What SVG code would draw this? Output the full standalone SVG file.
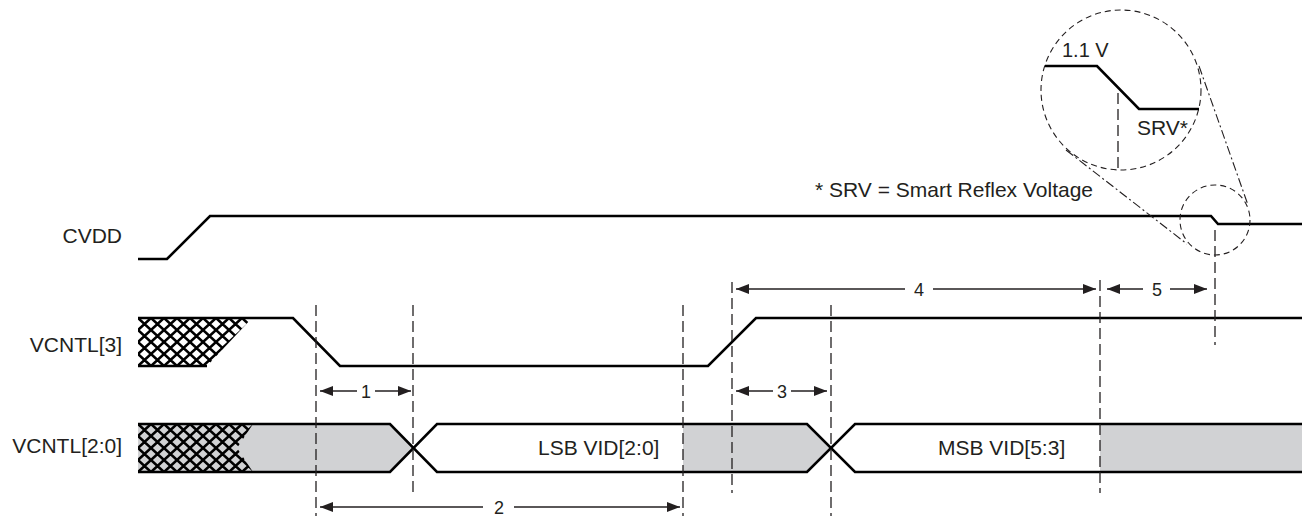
<svg xmlns="http://www.w3.org/2000/svg" width="1302" height="516" viewBox="0 0 1302 516">
<style>
.sig{fill:none;stroke:#000;stroke-width:2.6;stroke-linejoin:miter}
.lbl{font-family:"Liberation Sans",Arial,sans-serif;font-size:21px;fill:#231f20}
.num{font-family:"Liberation Sans Narrow","Liberation Sans",Arial,sans-serif;font-size:18px;fill:#231f20;text-anchor:middle}
.dash{fill:none;stroke:#231f20;stroke-width:1.3;stroke-dasharray:11 5}
.dim{fill:none;stroke:#231f20;stroke-width:1.3}
.gray{fill:#d1d2d4;stroke:none}
.circ{fill:none;stroke:#231f20;stroke-width:1.1;stroke-dasharray:6 4}
.tan{fill:none;stroke:#231f20;stroke-width:1.1;stroke-dasharray:9 3 2 3}
</style>
<defs>
<pattern id="hatch" patternUnits="userSpaceOnUse" width="13" height="12" x="138" y="318">
<path d="M0,0 L13,12 M13,0 L0,12" stroke="#000" stroke-width="2.6" fill="none"/>
</pattern>
<pattern id="hatch2" patternUnits="userSpaceOnUse" width="13" height="12" x="138" y="424">
<path d="M0,0 L13,12 M13,0 L0,12" stroke="#000" stroke-width="2.6" fill="none"/>
</pattern>
<marker id="ah" markerUnits="userSpaceOnUse" markerWidth="14" markerHeight="11" refX="13" refY="5" orient="auto-start-reverse">
<path d="M0,0 L13,5 L0,10 z" fill="#231f20"/>
</marker>
</defs>

<g id="cvdd">
<text class="lbl" x="122" y="243" text-anchor="end">CVDD</text>
<polyline class="sig" points="138,259 167,259 210,216 1211,216 1218,224 1302,224"/>
</g>

<g id="vcntl3">
<text class="lbl" x="122" y="352" text-anchor="end">VCNTL[3]</text>
<polygon points="138,318 252,318 207,366 138,366" fill="url(#hatch)"/>
<polyline class="sig" points="138,318 293,318 340,366 708,366 756,318 1302,318"/>
<line class="sig" x1="138" y1="366" x2="207" y2="366"/>
</g>

<g id="vcntl20">
<text class="lbl" x="122" y="453" text-anchor="end">VCNTL[2:0]</text>
<polygon class="gray" points="138,424 390,424 413,448 390,472 138,472"/>
<polygon points="138,424 253,424 237,448 253,472 138,472" fill="url(#hatch2)"/>
<polygon class="gray" points="683,424 807,424 831,448 807,472 683,472"/>
<rect class="gray" x="1100" y="424" width="202" height="48"/>
<polyline class="sig" points="138,424 390,424 437,472 807,472 855,424 1302,424"/>
<polyline class="sig" points="138,472 390,472 437,424 807,424 855,472 1302,472"/>
<text class="lbl" x="538" y="455">LSB VID[2:0]</text>
<text class="lbl" x="938" y="455">MSB VID[5:3]</text>
</g>

<g id="guides">
<line class="dash" x1="316" y1="305" x2="316" y2="516"/>
<line class="dash" x1="413" y1="305" x2="413" y2="493"/>
<line class="dash" x1="683" y1="305" x2="683" y2="516"/>
<line class="dash" x1="732" y1="282" x2="732" y2="493"/>
<line class="dash" x1="831" y1="305" x2="831" y2="516"/>
<line class="dash" x1="1100" y1="280" x2="1100" y2="493"/>
<line class="dash" x1="1215" y1="230" x2="1215" y2="345"/>
</g>

<g id="magnifier">
<circle class="circ" cx="1215" cy="220" r="35"/>
<circle class="circ" cx="1121" cy="90" r="80"/>
<line class="tan" x1="1066" y1="150" x2="1187" y2="244"/>
<line class="tan" x1="1199" y1="66" x2="1248" y2="205"/>
<polyline class="sig" points="1045,66 1097,66 1139,109 1199,109"/>
<line class="dash" x1="1118" y1="93" x2="1118" y2="170"/>
<text class="lbl" x="1062" y="57" style="font-size:20px">1.1 V</text>
<text class="lbl" x="1137" y="135">SRV*</text>
<text class="lbl" x="815" y="197">* SRV = Smart Reflex Voltage</text>
</g>

<g id="connectors">
<line class="dim" x1="357" y1="391" x2="320" y2="391" marker-end="url(#ah)"/>
<line class="dim" x1="375" y1="391" x2="411" y2="391" marker-end="url(#ah)"/>
<text class="num" x="366" y="398">1</text>
<line class="dim" x1="483" y1="507" x2="320" y2="507" marker-end="url(#ah)"/>
<line class="dim" x1="514" y1="507" x2="680" y2="507" marker-end="url(#ah)"/>
<text class="num" x="499" y="514">2</text>
<line class="dim" x1="773" y1="391" x2="736" y2="391" marker-end="url(#ah)"/>
<line class="dim" x1="791" y1="391" x2="827" y2="391" marker-end="url(#ah)"/>
<text class="num" x="782" y="398">3</text>
<line class="dim" x1="905" y1="289" x2="736" y2="289" marker-end="url(#ah)"/>
<line class="dim" x1="933" y1="289" x2="1096" y2="289" marker-end="url(#ah)"/>
<text class="num" x="919" y="296">4</text>
<line class="dim" x1="1143" y1="289" x2="1107" y2="289" marker-end="url(#ah)"/>
<line class="dim" x1="1170" y1="289" x2="1207" y2="289" marker-end="url(#ah)"/>
<text class="num" x="1157" y="296">5</text>
</g>
</svg>
